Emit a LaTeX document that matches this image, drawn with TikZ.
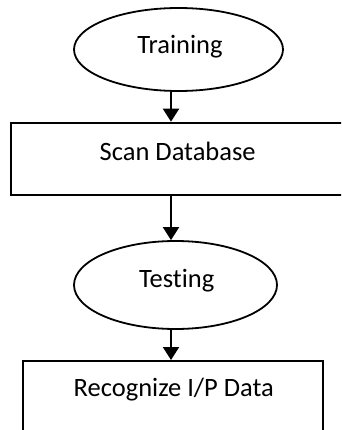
\documentclass[tikz,border=0pt]{standalone}
\usepackage{fontspec}
\setmainfont[Ligatures=NoCommon]{Carlito}
\usetikzlibrary{shapes.geometric,arrows.meta}
\tikzset{
  term/.style={ellipse, draw, line width=1.8pt, inner sep=0pt},
  proc/.style={rectangle, draw, line width=2pt, inner sep=0pt},
  txt/.style={font=\fontsize{26.5}{30}\selectfont, inner sep=0pt},
  flow/.style={line width=2pt, -{Triangle[width=16pt,length=13pt]}}
}
\begin{document}
\begin{tikzpicture}[x=1pt,y=-1pt]
  \useasboundingbox (0,0) rectangle (341,430);
  \clip (0,0) rectangle (341,430);
  % column of the connectors
  \coordinate (col) at (171,0);
  % shapes
  \node[term, minimum width=209pt, minimum height=83pt] (train) at (178.5,49.5) {};
  \node[proc, minimum width=335.3pt, minimum height=72.3pt] (scan) at (178.3,158.85) {};
  \node[term, minimum width=203pt, minimum height=88pt] (test) at (175.5,285) {};
  \node[proc, minimum width=300.3pt, minimum height=72pt] (recog) at (172.85,397) {};
  % labels
  \node[txt] (trainlbl) at (180,46.5) {Training};
  \node[txt] (scanlbl) at (177.7,151) {Scan Database};
  \node[txt] (testlbl) at (176.7,280.5) {Testing};
  \node[txt] (recoglbl) at (173.8,390) {Recognize I/P Data};
  % connectors
  \draw[flow] (train.south -| col) -- (scan.north -| col);
  \draw[flow] (scan.south -| col) -- (test.north -| col);
  \draw[flow] (test.south -| col) -- (recog.north -| col);
\end{tikzpicture}
\end{document}
